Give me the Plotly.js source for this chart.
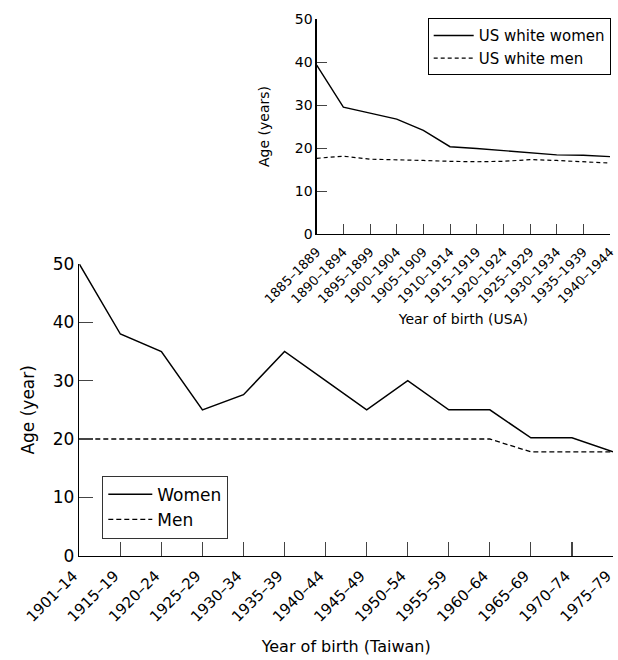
<!DOCTYPE html>
<html>
<head>
<meta charset="utf-8">
<script src="https://cdn.plot.ly/plotly-3.0.1.min.js"></script>
<style>html,body{margin:0;padding:0;background:#fff;}#chart{width:618px;height:660px;}</style>
</head>
<body>
<div id="chart"></div>
<script>
// Taiwan (main panel)
var twCategories = ["1901–14","1915–19","1920–24","1925–29","1930–34","1935–39","1940–44","1945–49","1950–54","1955–59","1960–64","1965–69","1970–74","1975–79"];
var twWomen = [50, 38, 35, 25, 27.6, 35, 30, 25, 30, 25, 25, 20.2, 20.2, 17.8];
var twMen   = [20, 20, 20, 20, 20, 20, 20, 20, 20, 20, 20, 17.8, 17.8, 17.8];

// USA (inset panel)
var usCategories = ["1885–1889","1890–1894","1895–1899","1900–1904","1905–1909","1910–1914","1915–1919","1920–1924","1925–1929","1930–1934","1935–1939","1940–1944"];
var usWomen = [39.3, 29.5, 28.1, 26.7, 24.1, 20.3, 19.9, 19.4, 19.0, 18.4, 18.3, 18.0];
var usMen   = [17.6, 18.1, 17.4, 17.3, 17.1, 16.9, 16.8, 16.9, 17.3, 17.1, 16.8, 16.5];

var yTicks = [0, 10, 20, 30, 40, 50];

var FONT = "DejaVu Sans, sans-serif";
var W = 618, H = 660;
function px(x){ return x / W; }
function py(y){ return 1 - y / H; }

var traces = [
  {x: twCategories, y: twWomen, name: "Women", type: "scatter", mode: "lines", legendgroup: "a",
   line: {color: "#000", width: 1.5, dash: "solid"}, xaxis: "x", yaxis: "y", legend: "legend"},
  {x: twCategories, y: twMen, name: "Men", type: "scatter", mode: "lines", legendgroup: "b",
   line: {color: "#000", width: 1.3, dash: "5px,3px"}, xaxis: "x", yaxis: "y", legend: "legend"},
  {x: usCategories, y: usWomen, name: "US white women", type: "scatter", mode: "lines", legendgroup: "c",
   line: {color: "#000", width: 1.4, dash: "solid"}, xaxis: "x2", yaxis: "y2", legend: "legend2"},
  {x: usCategories, y: usMen, name: "US white men", type: "scatter", mode: "lines", legendgroup: "d",
   line: {color: "#000", width: 1.2, dash: "4px,3px"}, xaxis: "x2", yaxis: "y2", legend: "legend2"}
];

var layout = {
  width: W, height: H,
  margin: {l: 0, r: 0, t: 0, b: 0},
  paper_bgcolor: "#fff", plot_bgcolor: "rgba(0,0,0,0)",
  font: {family: FONT, color: "#000", size: 16},
  showlegend: true,
  xaxis: {
    domain: [px(79.3), px(613)], anchor: "y",
    type: "category", range: [0, twCategories.length - 1],
    showline: true, linecolor: "#000", linewidth: 1.5, mirror: false,
    ticks: "inside", ticklen: 14, tickwidth: 1.2, tickcolor: "#444",
    tickangle: -45, ticklabelstandoff: 4, ticklabelshift: -6, showgrid: false, zeroline: false,
    tickfont: {family: FONT, size: 15, color: "#000"},
    title: {text: "Year of birth (Taiwan)", font: {family: FONT, size: 16, color: "#000"}, standoff: 16}
  },
  yaxis: {
    domain: [py(555.7), py(264)], anchor: "x",
    range: [0, 50], tickvals: yTicks,
    showline: true, linecolor: "#000", linewidth: 1.5,
    ticks: "inside", ticklen: 14, tickwidth: 1.2, tickcolor: "#444",
    showgrid: false, zeroline: false,
    tickfont: {family: FONT, size: 17, color: "#000"},
    title: {text: "Age (year)", font: {family: FONT, size: 17, color: "#000"}, standoff: 14}
  },
  xaxis2: {
    domain: [px(316.7), px(610)], anchor: "y2",
    type: "category", range: [0, usCategories.length - 1],
    showline: true, linecolor: "#000", linewidth: 1.3,
    ticks: "inside", ticklen: 10, tickwidth: 1, tickcolor: "#444",
    tickangle: -45, ticklabelstandoff: 4, showgrid: false, zeroline: false,
    tickfont: {family: FONT, size: 13, color: "#000"},
    title: {text: "Year of birth (USA)", font: {family: FONT, size: 14, color: "#000"}, standoff: 8}
  },
  yaxis2: {
    domain: [py(234), py(19)], anchor: "x2",
    range: [0, 50], tickvals: yTicks,
    showline: true, linecolor: "#000", linewidth: 1.3,
    ticks: "inside", ticklen: 10, tickwidth: 1, tickcolor: "#444",
    showgrid: false, zeroline: false,
    tickfont: {family: FONT, size: 14, color: "#000"},
    title: {text: "Age (years)", font: {family: FONT, size: 14, color: "#000"}, standoff: 22}
  },
  legend: {
    x: px(102.3), y: py(475.7), xanchor: "left", yanchor: "top",
    bgcolor: "#fff", bordercolor: "#333", borderwidth: 1,
    font: {family: FONT, size: 17, color: "#000"},
    itemwidth: 44, tracegroupgap: 0
  },
  legend2: {
    x: px(610.7), y: py(18.3), xanchor: "right", yanchor: "top",
    bgcolor: "#fff", bordercolor: "#000", borderwidth: 1,
    font: {family: FONT, size: 15, color: "#000"},
    itemwidth: 40, tracegroupgap: 0
  }
};

Plotly.newPlot("chart", traces, layout, {displayModeBar: false, staticPlot: true});
</script>
</body>
</html>
